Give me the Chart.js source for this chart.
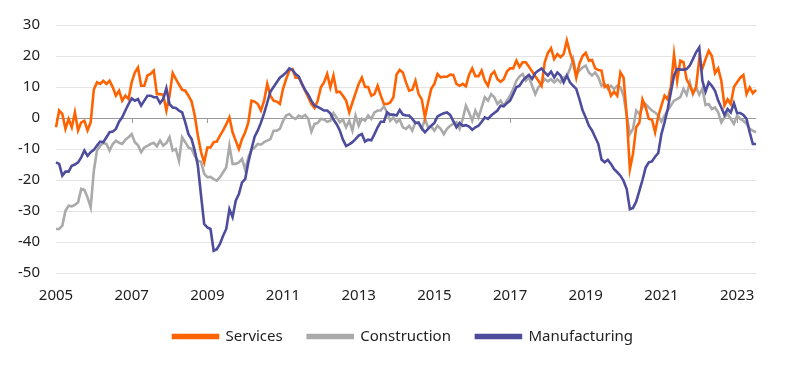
<!DOCTYPE html>
<html><head><meta charset="utf-8">
<script src="https://cdn.jsdelivr.net/npm/chart.js@4.4.0/dist/chart.umd.min.js"></script>
<style>html,body{margin:0;padding:0;background:#fff}#wrap{width:800px;height:367px;position:relative}</style>
</head><body><div id="wrap"><canvas id="c"></canvas></div>
<script>
const startYear = 2005;
const tickYears = ['2005','2007','2009','2011','2013','2015','2017','2019','2021','2023'];
const seriesNames = ['Services','Construction','Manufacturing'];

const services = [
-3, 2.4, 1.3, -3.5, -0.3, -3, 1.8, -4, -1.4, -0.9,
-4, -1.4, 9.2, 11.5, 11, 12, 11, 12, 9.9, 7.2,
8.8, 5.6, 7.2, 6.1, 11.5, 14.7, 16.3, 10.4, 10.4, 13.7,
14.2, 15.3, 7.7, 7.7, 7.5, 2.4, 7.2, 14.5, 12.6, 10.8,
9.1, 8.8, 7.2, 5.3, 0.8, -5.7, -11, -14.3, -9.5, -9.5,
-7.8, -7.6, -5.7, -4, -2, 0.2, -4.6, -7.3, -10, -6.8,
-4.6, -1.4, 5.6, 5.3, 4.5, 2.4, 5.6, 11, 7.2, 5.6,
5.3, 4.5, 9.4, 12.6, 15.3, 15.8, 13, 13, 11, 8.8,
6.7, 4.5, 3.2, 5.6, 9.9, 11.5, 14.2, 9.9, 13.7, 8.3,
8.5, 7.2, 5.6, 1.8, 5, 8, 11, 13, 10, 10,
7.2, 7.7, 10.4, 7.2, 4.5, 4.5, 5, 6.7, 14, 15.5,
14.7, 11.5, 8.8, 9.1, 12, 7.7, 6, 0.2, 5, 9.4,
11, 14.2, 13.1, 13.3, 13.3, 14, 13.9, 11, 10.4, 11,
10.2, 14, 16, 13.5, 13.5, 15.3, 12, 10.4, 14, 15,
12.5, 11.7, 12.5, 15, 16, 16, 18.5, 16.5, 18, 18,
16.5, 15, 13.5, 12, 10.4, 18, 21, 22.5, 19, 20.6,
19.6, 20.6, 25, 21, 18, 13, 17.5, 20, 21, 18.5,
18.7, 16, 15.5, 15.3, 10, 10.5, 7.2, 8.5, 7.2, 14.7,
13, 0.8, -16.5, -11.5, -3, -1.5, 6, 3.5, -0.3, -0.5,
-4.6, 0.5, 4, 7.2, 6, 10, 20.5, 12, 18.5, 18,
12.5, 10.5, 8, 10, 19, 16, 19, 21.7, 20, 14.5,
16, 12, 4, 6, 4.5, 10, 11.5, 13, 13.9, 7.7,
9.9, 8, 9.1
];

const construction = [
-35.8, -35.8, -34.7, -29.9, -28.3, -28.5, -28, -27.2, -22.9, -23.2,
-25.6, -28.8, -17, -10.5, -9, -8, -8.4, -10.5, -8.4, -7.3,
-8, -8.4, -7, -6.2, -5.2, -7.8, -8.8, -11, -9.5, -9,
-8.4, -8, -9.1, -7.3, -8.9, -8.1, -6.2, -10.5, -10, -13.8,
-6.2, -7.8, -9.5, -10, -12.2, -13.8, -14.1, -18, -19.1, -19,
-19.7, -20.2, -19.1, -17.5, -15.9, -8.9, -14.8, -14.8, -14.3, -13.2,
-16.7, -12.7, -10.3, -9.5, -8.4, -8.6, -7.8, -7.3, -6.8, -4.1,
-4.1, -3.5, -0.9, 0.8, 1.3, 0.2, -0.3, 0.8, 0.3, 1,
-0.3, -4.4, -1.9, -1.6, -0.3, -0.5, -1.2, -0.9, 1.6, 0.2,
-1.4, -0.5, -3, -0.9, -4.1, 0.8, -2.5, -0.3, -0.9, 0.8,
-0.3, 1.8, 2.4, 2.4, 3.8, 1.8, -0.9, 0.2, -1.4, -0.5,
-3, -3.5, -2.5, -4.1, -1.4, -1.9, -3.5, -0.3, -3, -2.7,
-4.1, -2.5, -3.5, -5.2, -3.5, -2.5, -1.9, -1.4, -3.5, -0.3,
4, 1.8, -0.9, 2.4, 0.2, 3.4, 6.7, 5.6, 7.7, 6.7,
4.5, 5.6, 4, 5.6, 7.2, 9.4, 12, 13.4, 14.2, 12,
13.1, 10.4, 7.7, 9.9, 11, 12.6, 11.8, 12.5, 11.5, 12.5,
11.5, 13.1, 13.5, 15.8, 19, 14.2, 15.3, 16.3, 16.9, 14.7,
13.7, 14.7, 13.1, 10.4, 11, 9.4, 10.4, 9.4, 10.4, 9.9,
7.2, 0.8, -5.2, -3.5, 2.4, 1.3, 3.4, 4.5, 3.4, 2.4,
1.8, 0.8, -1.2, 0.8, 2.4, 4, 5.6, 6.1, 6.7, 9.4,
7.5, 11.5, 7.7, 9.9, 7.5, 9.5, 4.2, 4.5, 2.9, 3.4,
1.8, -1.4, 0.2, 1.3, -0.3, -1.9, 0.8, -0.3, -0.9, -1.9,
-3.5, -4.1, -4.6
];

const manufacturing = [
-14.3, -14.8, -18.6, -17.3, -17.3, -15.4, -15, -14.3, -12.7, -10.5,
-12.2, -11, -10.3, -8.9, -7.6, -7.8, -6.2, -4.6, -4.4, -3.5,
-1.2, 0.2, 2.4, 4.5, 6.3, 5.6, 6.1, 4, 5.6, 7.2,
7.2, 6.7, 6.7, 4.8, 6.1, 9.6, 4.5, 3.4, 3.2, 2.4,
1.8, -1.4, -5.2, -6.8, -10.5, -15.4, -25, -34.2, -35.3, -35.8,
-42.8, -42.3, -40.6, -38, -35.8, -29.4, -32, -26.7, -24.5, -20.8,
-19.7, -14.3, -10, -6, -4, -1.5, 1.5, 5, 8.5, 10,
11.5, 13, 13.8, 14.7, 16, 15.5, 14.2, 13.4, 11, 9,
7.5, 5.5, 4, 3.6, 3, 2.4, 2.4, 1.5, -0.5, -2,
-4, -7, -9, -8.5, -7.8, -6.8, -5.7, -5.2, -7.6, -7,
-7.2, -5.2, -3, -1.2, -1.2, 1.8, 1.1, 1.1, 0.8, 2.6,
1.1, 0.8, 0.8, -0.3, -1.6, -1.4, -3.3, -4.6, -3.5, -2.5,
-1.6, 0.5, 1.1, 1.5, 1.8, 1, -1, -3, -1.6, -2.5,
-2.3, -2.8, -3.8, -3, -2.5, -1.2, 0.2, -0.3, 0.8, 1.6,
2.4, 4, 3.8, 4.8, 5.6, 7.7, 9.9, 10.4, 12, 13.1,
13.9, 12.6, 14.5, 15.3, 16, 14.7, 13.7, 15, 13.1, 14.7,
13.7, 11.5, 13.7, 11.5, 10.4, 9.4, 6.1, 2.5, 0.2, -2.5,
-4, -6.2, -8.4, -13.4, -14.3, -13.5, -14.8, -16.5, -17.5, -18.6,
-20.3, -22.9, -29.4, -29, -27, -23.5, -20, -16, -14.3, -14,
-12.5, -11.3, -5.2, -1.4, 2.9, 8.3, 13.7, 15.8, 15.6, 15.6,
15.8, 16.9, 19, 21.2, 22.8, 12, 8.5, 11.5, 10.4, 8.8,
5.6, 3.4, 1, 2.9, 1.8, 4.8, 1.6, 1.6, 1, -0.3,
-4.6, -8.4, -8.4
];

const months = services.map((_, i) => (startYear + Math.floor(i / 12)) + '-' + String(i % 12 + 1).padStart(2, '0'));
const isTickIndex = (i) => months[i].endsWith('-01') && tickYears.includes(months[i].slice(0, 4));

const FONT = "'Noto Sans', 'DejaVu Sans', sans-serif";
const TEXT = '#222222';

const zeroTicks = {
  id: 'zeroTicks',
  beforeDatasetsDraw(chart) {
    const {ctx, scales: {x, y}} = chart;
    const y0 = y.getPixelForValue(0);
    ctx.save();
    ctx.strokeStyle = '#9a9a9a';
    ctx.lineWidth = 1;
    months.forEach((m, i) => {
      if (!isTickIndex(i)) return;
      const px = Math.round(x.getPixelForValue(i)) + 0.5;
      ctx.beginPath();
      ctx.moveTo(px, y0);
      ctx.lineTo(px, y0 + 5);
      ctx.stroke();
    });
    ctx.restore();
  }
};

const legendShift = {
  id: 'legendShift',
  afterLayout(chart) {
    if (chart.legend) { chart.legend.left += 20; chart.legend.right += 20; }
  }
};

new Chart(document.getElementById('c'), {
  type: 'line',
  data: {
    labels: months,
    datasets: [
      {label: seriesNames[0], data: services, borderColor: '#FF6200', backgroundColor: '#FF6200', borderWidth: 2.6, pointRadius: 0, tension: 0, order: 1},
      {label: seriesNames[1], data: construction, borderColor: '#AAAAAA', backgroundColor: '#AAAAAA', borderWidth: 2.6, pointRadius: 0, tension: 0, order: 2},
      {label: seriesNames[2], data: manufacturing, borderColor: '#4E4C9C', backgroundColor: '#4E4C9C', borderWidth: 2.6, pointRadius: 0, tension: 0, order: 0}
    ]
  },
  options: {
    responsive: true,
    maintainAspectRatio: false,
    animation: false,
    layout: {padding: {left: 10, right: 44, top: 24, bottom: 13}},
    plugins: {
      tooltip: {enabled: false},
      legend: {
        position: 'bottom',
        labels: {
          boxWidth: 45, boxHeight: 3, padding: 25,
          color: TEXT, font: {family: FONT, size: 15},
          sort: (a, b) => a.datasetIndex - b.datasetIndex
        }
      }
    },
    scales: {
      x: {
        type: 'category',
        offset: false,
        grid: {display: false, drawTicks: false},
        border: {display: false},
        afterBuildTicks: (s) => { s.ticks = s.ticks.filter(t => isTickIndex(t.value)); },
        afterFit: (s) => { s.height = Math.max(0, s.height - 15); },
        ticks: {
          autoSkip: false, maxRotation: 0, minRotation: 0, padding: 14,
          color: TEXT, font: {family: FONT, size: 15},
          callback: (v) => months[v].slice(0, 4)
        }
      },
      y: {
        min: -50, max: 30,
        afterFit: (s) => { s.width = 46; },
        grid: {
          drawTicks: false,
          color: (c) => c.tick && c.tick.value === 0 ? '#9a9a9a' : '#e4e4e4',
          lineWidth: 1
        },
        border: {display: false},
        ticks: {stepSize: 10, padding: 16, color: TEXT, font: {family: FONT, size: 15}}
      }
    }
  },
  plugins: [zeroTicks, legendShift]
});
</script>
</body></html>
